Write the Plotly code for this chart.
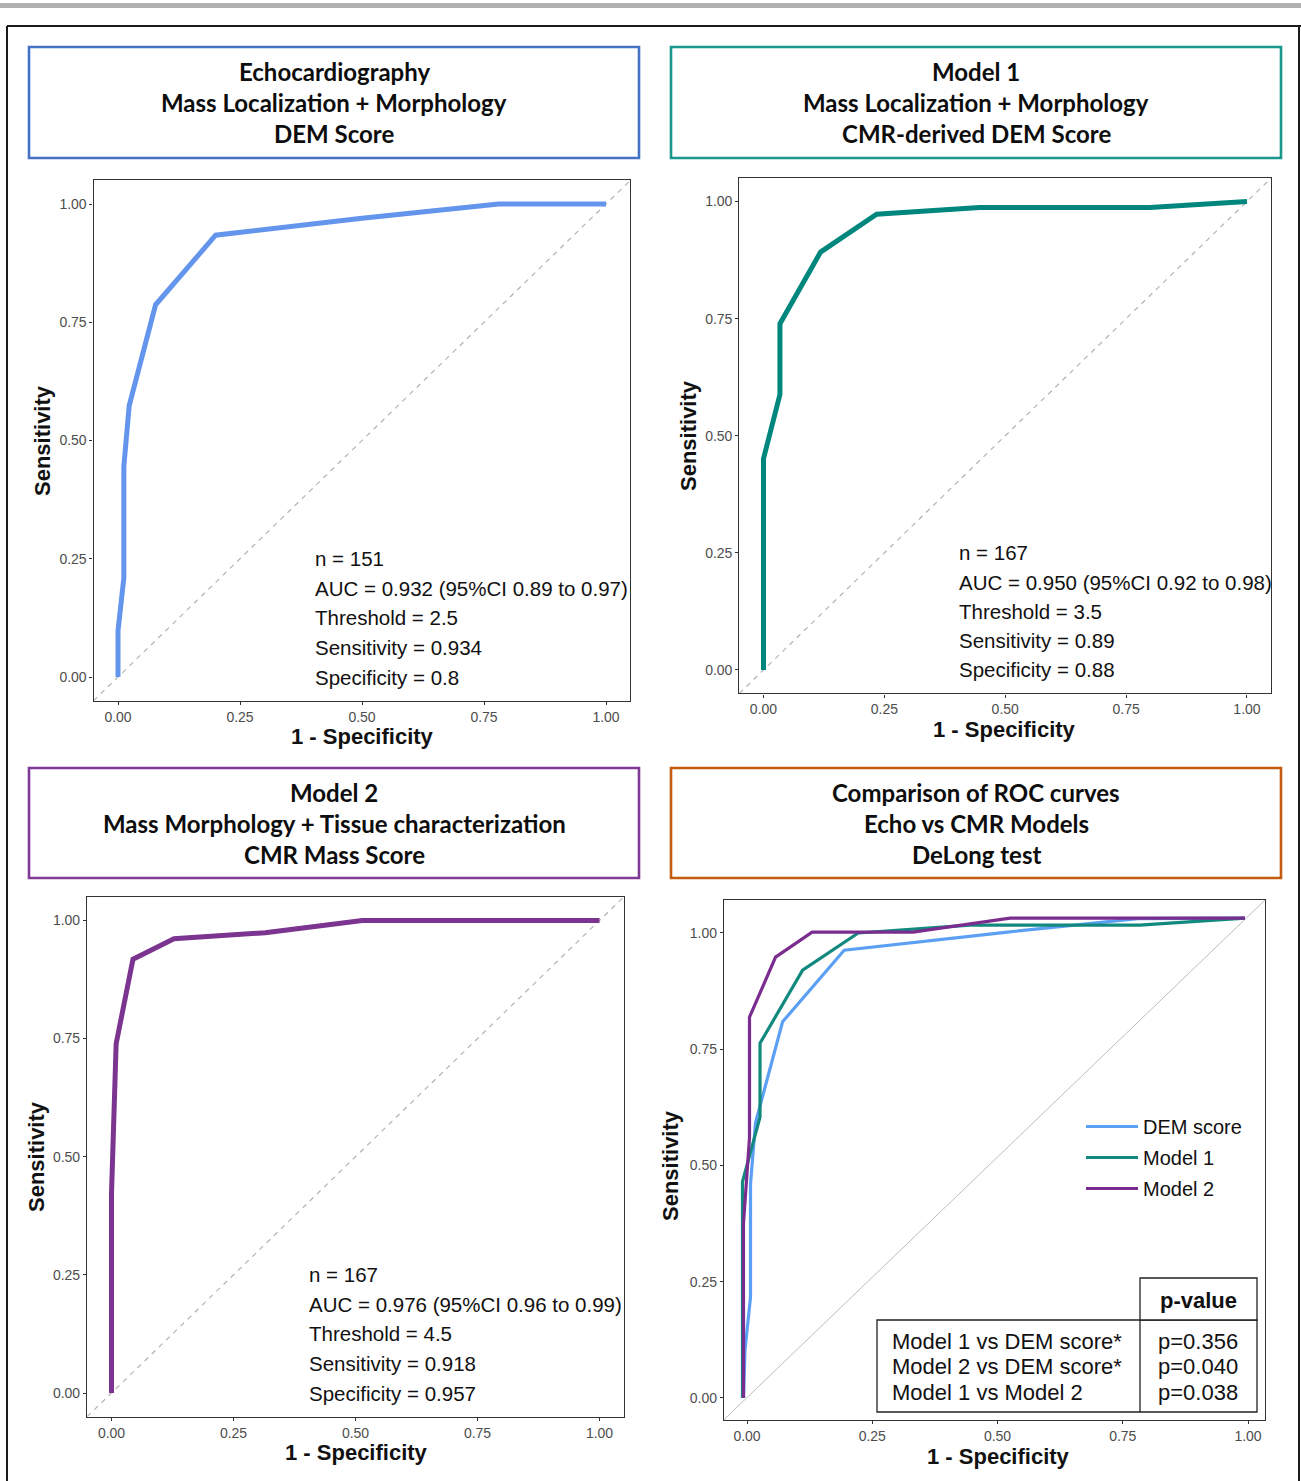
import plotly.graph_objects as go

W, H = 1301, 1481

# ---------------- data ----------------
tick_vals = [0.0, 0.25, 0.5, 0.75, 1.0]
tick_text = ["0.00", "0.25", "0.50", "0.75", "1.00"]

# Panel A: Echocardiography DEM score
echo_fpr = [0.0, 0.0, 0.012, 0.012, 0.023, 0.077, 0.2, 0.5, 0.78, 1.0]
echo_sens = [0.0, 0.098, 0.21, 0.446, 0.574, 0.787, 0.934, 0.97, 1.0, 1.0]

# Panel B: Model 1
m1_fpr = [0.0, 0.0, 0.034, 0.034, 0.118, 0.234, 0.447, 0.799, 1.0]
m1_sens = [0.0, 0.451, 0.588, 0.739, 0.892, 0.973, 0.987, 0.987, 1.0]

# Panel C: Model 2
m2_fpr = [0.0, 0.0, 0.0095, 0.044, 0.128, 0.315, 0.514, 1.0]
m2_sens = [0.0, 0.422, 0.739, 0.918, 0.961, 0.974, 1.0, 1.0]

# Panel D: comparison (as drawn in the combined panel)
cmp_dem_fpr = [-0.007, -0.004, 0.007, 0.007, 0.017, 0.071, 0.194, 0.52, 0.78, 0.994]
cmp_dem_sens = [0.0, 0.103, 0.217, 0.46, 0.592, 0.809, 0.963, 1.002, 1.031, 1.032]
cmp_m1_fpr = [-0.009, -0.009, 0.026, 0.026, 0.111, 0.222, 0.445, 0.784, 0.994]
cmp_m1_sens = [0.0, 0.465, 0.604, 0.763, 0.920, 1.0, 1.017, 1.017, 1.032]
cmp_m2_fpr = [-0.007, -0.007, 0.005, 0.005, 0.057, 0.13, 0.331, 0.525, 0.994]
cmp_m2_sens = [0.0, 0.376, 0.56, 0.819, 0.948, 1.002, 1.002, 1.032, 1.032]

legend_names = ["DEM score", "Model 1", "Model 2"]

stats_echo = ["n = 151", "AUC = 0.932 (95%CI 0.89 to 0.97)", "Threshold = 2.5",
              "Sensitivity = 0.934", "Specificity = 0.8"]
stats_m1 = ["n = 167", "AUC = 0.950 (95%CI 0.92 to 0.98)", "Threshold = 3.5",
            "Sensitivity = 0.89", "Specificity = 0.88"]
stats_m2 = ["n = 167", "AUC = 0.976 (95%CI 0.96 to 0.99)", "Threshold = 4.5",
            "Sensitivity = 0.918", "Specificity = 0.957"]

titles = [
    ["Echocardiography", "Mass Localization + Morphology", "DEM Score"],
    ["Model 1", "Mass Localization + Morphology", "CMR-derived DEM Score"],
    ["Model 2", "Mass Morphology + Tissue characterization", "CMR Mass Score"],
    ["Comparison of ROC curves", "Echo vs CMR Models", "DeLong test"],
]

comparisons = ["Model 1 vs DEM score*", "Model 2 vs DEM score*", "Model 1 vs Model 2"]
p_values = ["p=0.356", "p=0.040", "p=0.038"]

# ---------------- styling ----------------
C_ECHO = "#6495ED"
C_M1 = "#00877D"
C_M2 = "#7B3590"
C_CMP = ["#5CA0F5", "#12897E", "#7B2C8F"]
BOX_COLORS = ["#4472C4", "#1A978D", "#7E3A96", "#C55A11"]
SANS = "Liberation Sans, Arial, Helvetica, sans-serif"
TITLE_FONT = "Lato, Open Sans, sans-serif"


def px(x):
    return x / W


def py(y):
    return 1 - y / H


def dom_x(x0, x1, lo, hi):
    s = x1 - x0
    return [px(x0 + lo * s), px(x0 + hi * s)]


def dom_y(y0, y1, lo, hi):
    s = y0 - y1
    return [py(y0 - lo * s), py(y0 - hi * s)]


fig = go.Figure()

# panels: (xaxis name, yaxis name, x0px, x1px, y0px, y1px, xlo, xhi, ylo, yhi)
panels = [
    ("x", "y", 118, 606, 677, 204, -0.05, 1.05, -0.05, 1.05),
    ("x2", "y2", 763.5, 1247, 670, 201.5, -0.05, 1.05, -0.05, 1.05),
    ("x3", "y3", 111.5, 599.5, 1393, 920.4, -0.05, 1.05, -0.05, 1.05),
    ("x4", "y4", 747, 1248, 1398, 933, -0.046, 1.034, -0.0467, 1.0708),
]

axis_common = dict(
    showline=True, mirror=True, linecolor="#333333", linewidth=1.3,
    ticks="outside", ticklen=3, tickwidth=1.1, tickcolor="#333333",
    showgrid=False, zeroline=False, tickvals=tick_vals, ticktext=tick_text,
    tickfont=dict(family=SANS, size=14, color="#4d4d4d"), fixedrange=True,
)

layout_axes = {}
for i, (xa, ya, x0, x1, y0, y1, xlo, xhi, ylo, yhi) in enumerate(panels):
    xkey = "xaxis" if xa == "x" else "xaxis" + xa[1:]
    ykey = "yaxis" if ya == "y" else "yaxis" + ya[1:]
    layout_axes[xkey] = dict(axis_common, domain=dom_x(x0, x1, xlo, xhi),
                             range=[xlo, xhi], anchor=ya)
    layout_axes[ykey] = dict(axis_common, domain=dom_y(y0, y1, ylo, yhi),
                             range=[ylo, yhi], anchor=xa)

# single-model curves
for (xa, ya), fx, sy, col in [(("x", "y"), echo_fpr, echo_sens, C_ECHO),
                              (("x2", "y2"), m1_fpr, m1_sens, C_M1),
                              (("x3", "y3"), m2_fpr, m2_sens, C_M2)]:
    fig.add_trace(go.Scatter(x=fx, y=sy, mode="lines", xaxis=xa, yaxis=ya,
                             line=dict(color=col, width=5), showlegend=False,
                             hoverinfo="skip"))

# comparison curves
for name, fx, sy, col in zip(legend_names, [cmp_dem_fpr, cmp_m1_fpr, cmp_m2_fpr],
                             [cmp_dem_sens, cmp_m1_sens, cmp_m2_sens], C_CMP):
    fig.add_trace(go.Scatter(x=fx, y=sy, mode="lines", xaxis="x4", yaxis="y4",
                             name=name, legendgroup=name,
                             line=dict(color=col, width=3.2), hoverinfo="skip"))

shapes = []
# diagonal reference lines
for xa, ya in [("x", "y"), ("x2", "y2"), ("x3", "y3")]:
    shapes.append(dict(type="line", xref=xa, yref=ya, x0=-0.05, y0=-0.05, x1=1.05, y1=1.05,
                       line=dict(color="#b3b3b3", width=1.2, dash="5px,5px"), layer="below"))
shapes.append(dict(type="line", xref="x4 domain", yref="y4 domain", x0=0, y0=0, x1=1, y1=1,
                   line=dict(color="#bdbdbd", width=1), layer="below"))

# top grey bar and outer frame
shapes.append(dict(type="rect", xref="paper", yref="paper", x0=px(0), x1=px(1301),
                   y0=py(8), y1=py(3), fillcolor="#b1b1b3", line=dict(width=0)))
for (a, b, c, d) in [(7, 26, 1301, 26), (7, 26, 7, 1490), (1299, 26, 1299, 1490)]:
    shapes.append(dict(type="line", xref="paper", yref="paper", x0=px(a), y0=py(b),
                       x1=px(c), y1=py(d), line=dict(color="#1a1a1a", width=2)))

# title boxes
box_pos = [(29, 639, 47, 158), (671, 1281, 47, 158), (29, 639, 768, 878), (671, 1281, 768, 878)]
annotations = []
for (bx0, bx1, by0, by1), col, lines in zip(box_pos, BOX_COLORS, titles):
    shapes.append(dict(type="rect", xref="paper", yref="paper", x0=px(bx0), x1=px(bx1),
                       y0=py(by1), y1=py(by0), line=dict(color=col, width=2.6),
                       fillcolor="rgba(0,0,0,0)"))
    cx = (bx0 + bx1) / 2
    for k, t in enumerate(lines):
        annotations.append(dict(xref="paper", yref="paper", x=px(cx), y=py(by0 + 24 + 31 * k),
                                text="<b>" + t + "</b>", showarrow=False,
                                xanchor="center", yanchor="middle",
                                font=dict(family=TITLE_FONT, size=24, color="#0d0d0d")))

# axis titles
axis_title_pos = [(42, 441, 362, 736), (688, 435, 1005, 729),
                  (36, 1157, 356, 1452), (670, 1166, 998, 1456)]
for (sx, sy, xx, xy) in axis_title_pos:
    annotations.append(dict(xref="paper", yref="paper", x=px(sx), y=py(sy), text="<b>Sensitivity</b>",
                            textangle=-90, showarrow=False, xanchor="center", yanchor="middle",
                            font=dict(family=SANS, size=22, color="#111111")))
    annotations.append(dict(xref="paper", yref="paper", x=px(xx), y=py(xy), text="<b>1 - Specificity</b>",
                            showarrow=False, xanchor="center", yanchor="middle",
                            font=dict(family=SANS, size=22, color="#111111")))

# stats text inside panels
for (xa, ya), lines in [(("x", "y"), stats_echo), (("x2", "y2"), stats_m1), (("x3", "y3"), stats_m2)]:
    for k, t in enumerate(lines):
        annotations.append(dict(xref=xa, yref=ya, x=0.4, y=0.25 - 0.0625 * k, text=t,
                                showarrow=False, xanchor="left", yanchor="middle",
                                font=dict(family=SANS, size=20.5, color="#111111")))

# p-value table
tl = "#222222"
shapes.append(dict(type="rect", xref="paper", yref="paper", x0=px(877), x1=px(1257),
                   y0=py(1412), y1=py(1320), line=dict(color=tl, width=1.3), fillcolor="white"))
shapes.append(dict(type="rect", xref="paper", yref="paper", x0=px(1140), x1=px(1257),
                   y0=py(1320), y1=py(1278), line=dict(color=tl, width=1.3), fillcolor="white"))
shapes.append(dict(type="line", xref="paper", yref="paper", x0=px(1140), x1=px(1140),
                   y0=py(1412), y1=py(1320), line=dict(color=tl, width=1.3)))
annotations.append(dict(xref="paper", yref="paper", x=px(1198), y=py(1300), text="<b>p-value</b>",
                        showarrow=False, xanchor="center", yanchor="middle",
                        font=dict(family=SANS, size=22, color="#111111")))
for k, (c, p) in enumerate(zip(comparisons, p_values)):
    yy = 1341 + 25.5 * k
    annotations.append(dict(xref="paper", yref="paper", x=px(890), y=py(yy), text=c,
                            showarrow=False, xanchor="left", yanchor="middle",
                            font=dict(family=SANS, size=22, color="#111111")))
    annotations.append(dict(xref="paper", yref="paper", x=px(1198), y=py(yy), text=p,
                            showarrow=False, xanchor="center", yanchor="middle",
                            font=dict(family=SANS, size=22, color="#111111")))

fig.update_layout(
    width=W, height=H, margin=dict(l=0, r=0, t=0, b=0),
    paper_bgcolor="white", plot_bgcolor="white",
    shapes=shapes, annotations=annotations,
    showlegend=True,
    legend=dict(x=px(1081), y=py(1107), xanchor="left", yanchor="top",
                bgcolor="rgba(0,0,0,0)", borderwidth=0, tracegroupgap=2,
                itemwidth=52, font=dict(family=SANS, size=20, color="#111111")),
    **layout_axes,
)

fig.write_html("out.html", config={"displayModeBar": False},
               post_script="document.body.style.margin='0px';document.body.style.overflow='hidden';")
